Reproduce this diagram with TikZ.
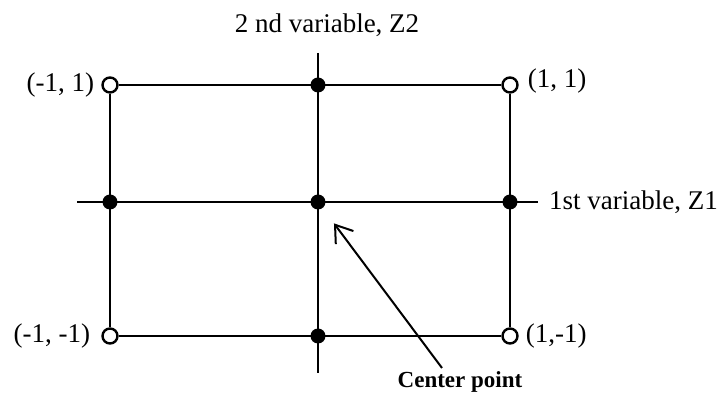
\documentclass[tikz,border=0pt]{standalone}
\usepackage{fontspec}
\setmainfont{Liberation Serif}
\usetikzlibrary{positioning,arrows.meta}

\begin{document}
\begin{tikzpicture}
  [x=0.5pt,y=-0.5pt,line width=1.2pt,
  font=\fontsize{13.5}{16}\selectfont,
  open/.style={circle,draw,fill=white,minimum size=7.5pt,inner sep=0pt},
  dot/.style={circle,fill,minimum size=7.5pt,inner sep=0pt},
  lab/.style={inner sep=1pt},
  arr/.style={-{Straight Barb[length=8pt,width=11pt]},line width=1pt}]
  \useasboundingbox (0,0) rectangle (719,395);
  \node[open] (tl) at (110,85) {};
  \node[open] (tr) at (510,85) {};
  \node[open] (bl) at (110,336) {};
  \node[open] (br) at (510,336) {};
  \node[dot] (t) at (318,85) {};
  \node[dot] (b) at (318,336) {};
  \node[dot] (l) at (110,202) {};
  \node[dot] (r) at (510,202) {};
  \node[dot] (c) at (318,202) {};
  \coordinate (xs) at (77,202);
  \coordinate (xe) at (538,202);
  \coordinate (ys) at (318,53);
  \coordinate (ye) at (318,373);
  \draw (tl) -- (tr);
  \draw (bl) -- (br);
  \draw (tl) -- (bl);
  \draw (tr) -- (br);
  \draw (xs) -- (xe);
  \draw (ys) -- (ye);
  \node[lab,left=2pt of tl] {(-1, 1)};
  \node[lab,right=3pt of tr,yshift=2pt] {(1, 1)};
  \node[lab,left=4pt of bl] {(-1, -1)};
  \node[lab,right=2pt of br] {(1,-1)};
  \node[lab,right=4pt of xe] {1st variable, Z1};
  \node[lab] (zlab) at (327,25) {2 nd variable, Z2};
  \node[inner sep=0pt,font=\fontsize{11.5}{13}\bfseries\selectfont] (cp) at (460,382) {Center point};
  \coordinate (cs) at (442,368);
  \draw[arr,shorten >=9pt] (cs) -- (c);
\end{tikzpicture}
\end{document}
